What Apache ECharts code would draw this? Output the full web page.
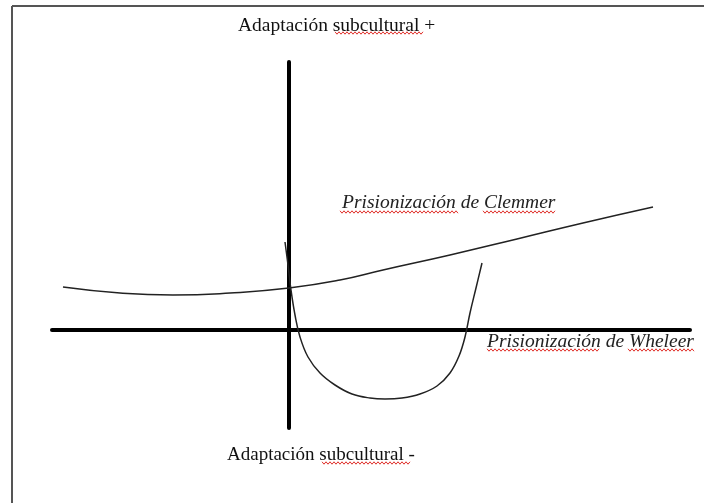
<!DOCTYPE html>
<html>
<head>
	<meta http-equiv="Content-Type" content="text/html; charset=UTF-8">
	<title>Prisionización</title>
	<script type="text/javascript" src="https://cdn.jsdelivr.net/npm/echarts@6/dist/echarts.min.js"></script>
	<style>
		html, body { margin: 0; padding: 0; background: #fff; }
		#show { width: 704px; height: 503px; }
	</style>
</head>
<body>
<div id="show"></div>

<script type="text/javascript">
	// puntos (x a la derecha del eje vertical, y sobre el eje horizontal)
	var clemmerX = [-226, -169, -116, -59, 0, 51, 94, 161, 228, 294, 364];
	var clemmerY = [43, 37, 35, 37, 42, 50, 60, 75, 91, 107, 123];

	var wheelerX = [-4, -1, 2, 6, 11, 19, 31, 46, 63, 81, 96, 113, 131, 148, 161, 170, 176, 181, 187, 193];
	var wheelerY = [88, 65, 40, 15, -7, -27, -43, -55, -64, -68, -69, -68, -64, -56, -43, -26, -7, 17, 42, 67];

	var xRange = [-237, 401];
	var yRange = [-98, 268];

	var textos = {
		arriba: 'Adaptación subcultural +',
		abajo: 'Adaptación subcultural -',
		clemmer: 'Prisionización de Clemmer',
		wheeler: 'Prisionización de Wheleer'
	};

	function pares(xs, ys) {
		return xs.map((x, i) => [x, ys[i]]);
	}

	// subrayado ondulado rojo del corrector
	function ondulado(x1, x2, y) {
		var pts = [];
		for (var x = x1, k = 0; x <= x2; x += 2, k++) {
			pts.push([x, y + (k % 2 ? 1.2 : -1.2)]);
		}
		return { type: 'polyline', shape: { points: pts }, style: { stroke: '#e0302a', lineWidth: 1, fill: null } };
	}

	var myChart = echarts.init(document.getElementById('show'));

	var fuente = '"Liberation Serif", "Times New Roman", serif';

	option = {
		animation: false,
		backgroundColor: '#fff',
		grid: { left: 52, right: 14, top: 62, bottom: 75 },
		xAxis: {
			type: 'value',
			min: xRange[0],
			max: xRange[1],
			axisLine: { onZero: true, lineStyle: { color: '#000', width: 4 } },
			axisTick: { show: false },
			axisLabel: { show: false },
			splitLine: { show: false }
		},
		yAxis: {
			type: 'value',
			min: yRange[0],
			max: yRange[1],
			axisLine: { show: true, onZero: true, lineStyle: { color: '#000', width: 4 } },
			axisTick: { show: false },
			axisLabel: { show: false },
			splitLine: { show: false }
		},
		graphic: [
			{ type: 'line', shape: { x1: 12, y1: 6, x2: 704, y2: 6 }, style: { stroke: '#555', lineWidth: 2 } },
			{ type: 'line', shape: { x1: 12, y1: 6, x2: 12, y2: 503 }, style: { stroke: '#555', lineWidth: 2 } },
			ondulado(335, 423, 33),
			ondulado(322, 411, 463),
			ondulado(340, 458, 212),
			ondulado(483, 555, 212),
			ondulado(487, 600, 350),
			ondulado(628, 695, 350),
			{ type: 'text', left: 238, top: 16, style: { text: textos.arriba, font: '19.5px ' + fuente, fill: '#111' } },
			{ type: 'text', left: 227, top: 446, style: { text: textos.abajo, font: '19px ' + fuente, fill: '#111' } },
			{ type: 'text', left: 342, top: 193, style: { text: textos.clemmer, font: 'italic 19.5px ' + fuente, fill: '#222' } },
			{ type: 'text', left: 487, top: 332, style: { text: textos.wheeler, font: 'italic 19.5px ' + fuente, fill: '#222' } }
		],
		series: [
			{
				name: 'Clemmer',
				type: 'line',
				data: pares(clemmerX, clemmerY),
				smooth: 0.5,
				symbol: 'none',
				lineStyle: { color: '#222', width: 1.5 }
			},
			{
				name: 'Wheeler',
				type: 'line',
				data: pares(wheelerX, wheelerY),
				smooth: 0.4,
				symbol: 'none',
				lineStyle: { color: '#222', width: 1.5 }
			}
		]
	};

	myChart.setOption(option);
</script>
</body>
</html>
